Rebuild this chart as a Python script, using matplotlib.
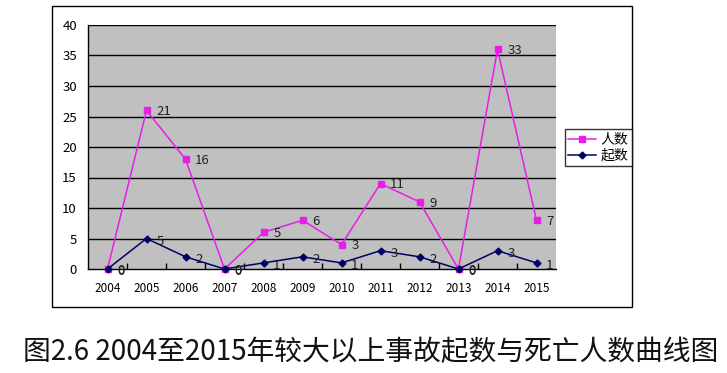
import matplotlib.pyplot as plt
from matplotlib.patches import Rectangle

plt.rcParams['font.family'] = ['Noto Sans CJK SC', 'DejaVu Sans']

years = ['2004', '2005', '2006', '2007', '2008', '2009',
         '2010', '2011', '2012', '2013', '2014', '2015']
# plotted heights of the death series (as drawn) and its printed labels
deaths_plot = [0, 26, 18, 0, 6, 8, 4, 14, 11, 0, 36, 8]
deaths_lbl = [0, 21, 16, 0, 5, 6, 3, 11, 9, 0, 33, 7]
accidents = [0, 5, 2, 0, 1, 2, 1, 3, 2, 0, 3, 1]
yticks = [0, 5, 10, 15, 20, 25, 30, 35, 40]

W, H = 727, 373
fig = plt.figure(figsize=(W / 100, H / 100), dpi=100)

# outer chart frame
fig.patches.append(Rectangle((52 / W, 1 - 307 / H), (632 - 52) / W, (307 - 6) / H,
                             transform=fig.transFigure, fill=False,
                             edgecolor='black', linewidth=1.0))

ax = fig.add_axes([88 / W, 1 - 269 / H, (556 - 88) / W, (269 - 25) / H])
ax.set_facecolor('#c0c0c0')
x = list(range(len(years)))

for y in yticks[1:]:
    ax.axhline(y, color='black', linewidth=1.0, zorder=1)

l1, = ax.plot(x, deaths_plot, color='#e81ee8', marker='s', markersize=5,
              linewidth=1.1, label='人数', zorder=3, clip_on=False)
l2, = ax.plot(x, accidents, color='#000066', marker='D', markersize=3.5,
              linewidth=1.1, label='起数', zorder=4, clip_on=False)

for i in x:
    ax.annotate(str(deaths_lbl[i]), (i, deaths_plot[i]), xytext=(7, -1),
                textcoords='offset points', ha='left', va='center',
                fontsize=9.5, color='#222222', zorder=5)
    ax.annotate(str(accidents[i]), (i, accidents[i]), xytext=(7, -2),
                textcoords='offset points', ha='left', va='center',
                fontsize=9.5, color='#222222', zorder=5)

ax.set_xlim(-0.5, len(years) - 0.5)
ax.set_ylim(0, 40)
ax.set_yticks(yticks)
ax.set_xticks(x)
ax.set_xticklabels(years)
ax.tick_params(axis='x', length=0, pad=9, labelsize=8.5)
ax.tick_params(axis='y', length=0, pad=8, labelsize=9.5)
ax.set_xticks([i + 0.5 for i in x[:-1]], minor=True)
ax.tick_params(axis='x', which='minor', direction='in', length=4, width=1)

for s in ['top', 'right']:
    ax.spines[s].set_visible(False)
ax.spines['left'].set_linewidth(1.0)
ax.spines['bottom'].set_linewidth(1.0)

leg = fig.legend(handles=[l1, l2], loc='upper left',
                 bbox_to_anchor=(565 / W, 1 - 129 / H), fontsize=10,
                 frameon=True, fancybox=False, edgecolor='black',
                 handlelength=2.0, handletextpad=0.3, borderpad=0.25,
                 labelspacing=0.15, borderaxespad=0)
leg.get_frame().set_linewidth(1.0)

fig.text(371 / W, 1 - 352 / H, '图2.6 2004至2015年较大以上事故起数与死亡人数曲线图',
         ha='center', va='center', fontsize=20, color='#111111')

fig.savefig('out.png', dpi=100)
